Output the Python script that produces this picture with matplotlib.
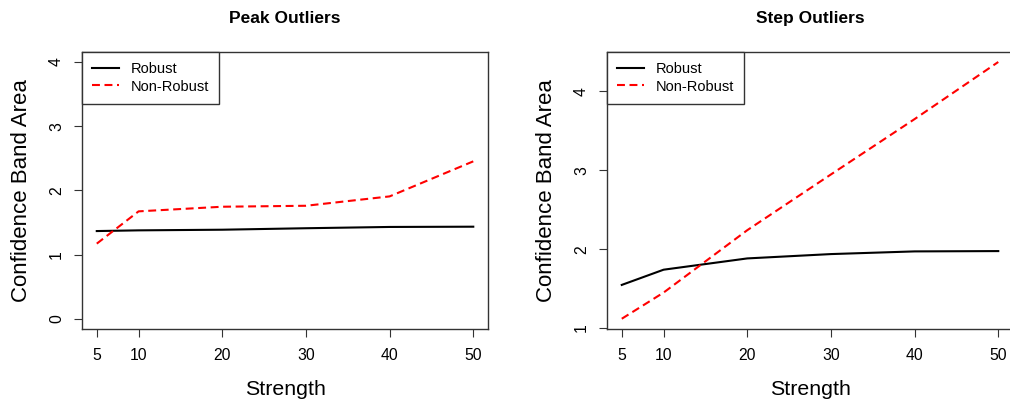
import numpy as np
import matplotlib
matplotlib.use('Agg')
import matplotlib.pyplot as plt

plt.rcParams['font.family'] = ['Liberation Sans', 'DejaVu Sans']

strength = [5, 10, 20, 30, 40, 50]

# Peak outliers
peak_robust = [1.366, 1.377, 1.387, 1.410, 1.430, 1.434]
peak_nonrobust = [1.17, 1.673, 1.745, 1.760, 1.906, 2.452]

# Step outliers
step_robust = [1.547, 1.740, 1.883, 1.938, 1.972, 1.976]
step_nonrobust = [1.118, 1.450, 2.241, 2.948, 3.650, 4.374]

titles = ['Peak Outliers', 'Step Outliers']


def r_limits(lo, hi):
    # R style 4% padding
    pad = (hi - lo) * 0.04
    return lo - pad, hi + pad


def draw_panel(ax, robust, nonrobust, title, ylim, yticks):
    ax.plot(strength, robust, color='black', lw=1.5, label='Robust')
    ax.plot(strength, nonrobust, color='red', lw=1.5, dashes=(3.8, 2.2),
            label='Non-Robust')
    ax.set_xlim(*r_limits(5, 50))
    ax.set_ylim(*r_limits(*ylim))
    ax.set_xticks(strength)
    ax.set_yticks(yticks)
    ax.tick_params(direction='out', length=5.8, width=0.8, labelsize=11.3,
                   color='#333333')
    ax.tick_params(axis='x', pad=8.0)
    ax.tick_params(axis='y', pad=7.0)
    for lab in ax.get_yticklabels():
        lab.set_rotation(90)
        lab.set_va('center')
    for sp in ax.spines.values():
        sp.set_color('#333333')
        sp.set_linewidth(1.0)
    ax.set_title(title, fontsize=12.5, fontweight='bold', pad=21)
    ax.set_xlabel('Strength', fontsize=15.4, labelpad=12)
    ax.set_ylabel('Confidence Band Area', fontsize=16, labelpad=12)
    leg = ax.legend(loc='upper left', borderaxespad=0, fancybox=False,
                    fontsize=10.5, handlelength=1.85, handletextpad=0.8,
                    borderpad=0.7, labelspacing=0.25, framealpha=1)
    leg.get_frame().set_edgecolor('#333333')
    leg.get_frame().set_linewidth(1.0)


fig = plt.figure(figsize=(10.1, 3.99), dpi=100)
ax1 = fig.add_axes([0.0809, 0.1754, 0.4026, 0.695])
ax2 = fig.add_axes([0.6007, 0.1754, 0.4026, 0.695])

draw_panel(ax1, peak_robust, peak_nonrobust, titles[0], (0, 4), [0, 1, 2, 3, 4])
lo = min(min(step_robust), min(step_nonrobust))
hi = max(max(step_robust), max(step_nonrobust))
draw_panel(ax2, step_robust, step_nonrobust, titles[1], (lo, hi), [1, 2, 3, 4])

fig.savefig('out.png', dpi=100)
